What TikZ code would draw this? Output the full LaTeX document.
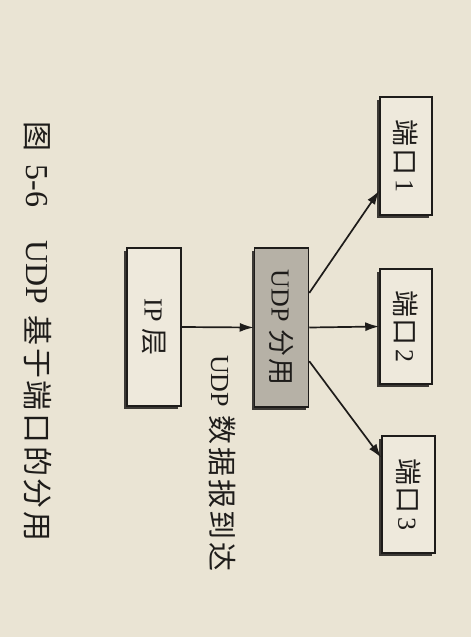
\documentclass[tikz,border=0pt]{standalone}
\usepackage{fontspec}
\usepackage{graphicx}
\setmainfont{Liberation Serif}
\newfontfamily\cjkbox[LetterSpace=7]{Noto Sans CJK SC}
\newfontfamily\cjklbl[LetterSpace=10]{Noto Sans CJK SC}
\newfontfamily\cjkcap[LetterSpace=9]{Noto Sans CJK SC}
\usetikzlibrary{shadows,calc,arrows.meta}
\definecolor{paper}{RGB}{234,228,212}
\definecolor{boxfill}{RGB}{238,233,220}
\definecolor{udpfill}{RGB}{182,177,166}
\definecolor{ink}{RGB}{30,28,26}
\newcommand{\vtext}[1]{\rotatebox{-90}{#1}}
\newcommand{\cb}[1]{{\cjkbox\fontsize{27}{31}\selectfont #1}}
\begin{document}
\begin{tikzpicture}[x=1pt,y=-1pt,
  blk/.style={draw=ink, line width=1.5pt, fill=boxfill, inner sep=0pt,
    drop shadow={shadow xshift=-3pt, shadow yshift=-3pt, fill=ink, opacity=0.85}},
  arr/.style={draw=ink, line width=1.7pt, -{Latex[length=14pt,width=9pt]}},
  txt/.style={font=\fontsize{26}{30}\selectfont, text=ink}]
\fill[paper] (0,0) rectangle (471,637);
\useasboundingbox (0,0) rectangle (471,637);
% boxes
\node[blk, txt, minimum width=54pt, minimum height=158pt] (ip) at (154,327) {\vtext{IP\hspace{6pt}\cb{层}}};
\node[blk, txt, fill=udpfill, minimum width=54pt, minimum height=159pt] (udp) at (281.5,327.5) {\vtext{UDP\hspace{8pt}\cb{分用}}};
\node[blk, txt, minimum width=52pt, minimum height=118pt] (p1) at (406,156) {\vtext{\cb{端口}\hspace{4pt}1}};
\node[blk, txt, minimum width=52pt, minimum height=115pt] (p2) at (406,326.5) {\vtext{\cb{端口}\hspace{4pt}2}};
\node[blk, txt, minimum width=53pt, minimum height=117pt] (p3) at (408.5,494.5) {\vtext{\cb{端口}\hspace{4pt}3}};
% connectors
\draw[arr] (ip.east) -- (udp.west);
\coordinate (u1) at ($(udp.north east)!0.285!(udp.south east)$);
\coordinate (u3) at ($(udp.north east)!0.71!(udp.south east)$);
\coordinate (e1) at ($(p1.north west)!0.79!(p1.south west)$);
\coordinate (e3) at ($(p3.north west)!0.19!(p3.south west)$);
\draw[arr] (u1) -- (e1);
\draw[arr] (udp.east) -- (p2.west);
\draw[arr] (u3) -- (e3);
% labels
\node[txt, rotate=-90, anchor=west, inner sep=0pt] (lbl) at (222,355) {UDP\hspace{8pt}{\cjklbl\fontsize{29}{33}\selectfont 数据报到达}};
\node[rotate=-90, anchor=west, inner sep=0pt, text=ink, font=\fontsize{32}{36}\selectfont] (cap) at (38,121.5) {{\cjkcap\fontsize{30}{34}\selectfont 图}\hspace{13pt}5-6\hspace{33pt}UDP\hspace{11pt}{\cjkcap\fontsize{30}{34}\selectfont 基于端口的分用}};
\end{tikzpicture}
\end{document}
